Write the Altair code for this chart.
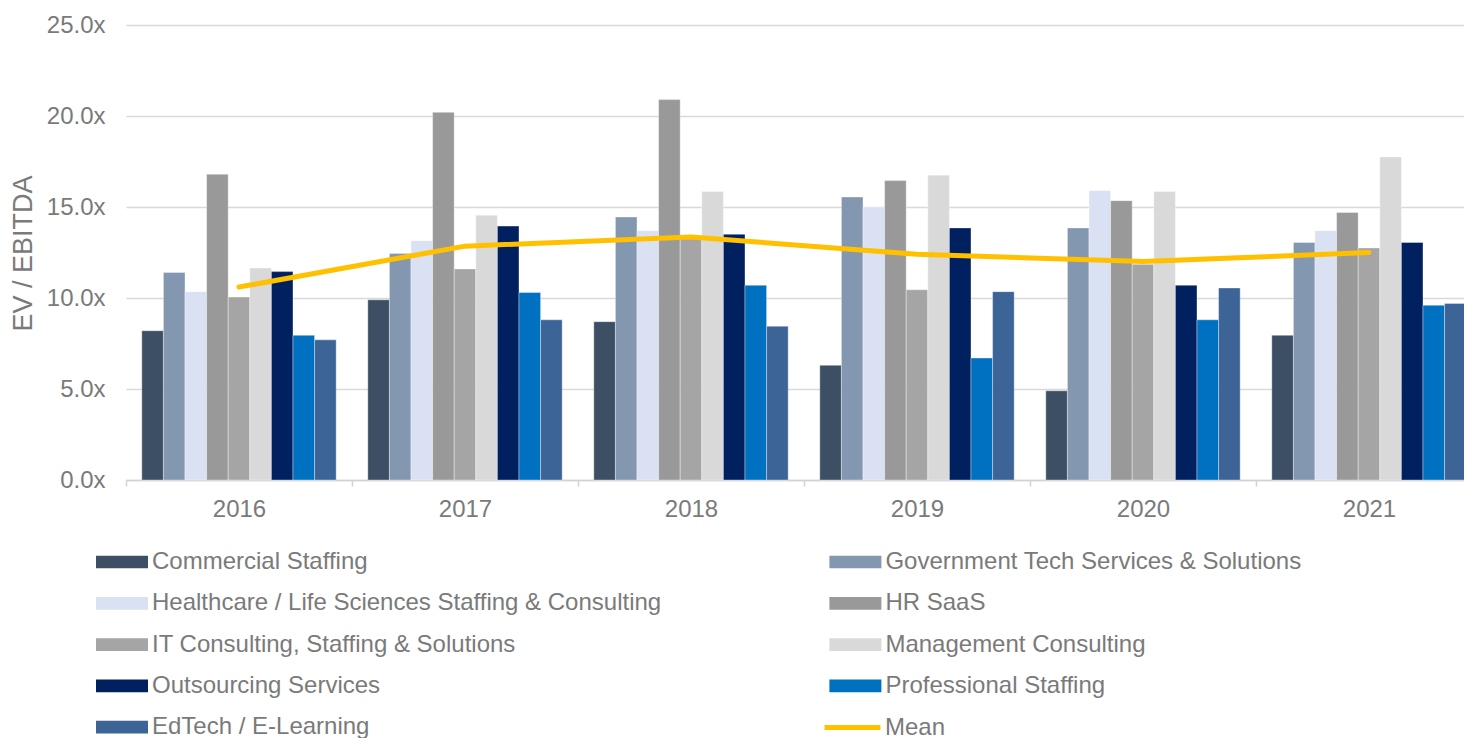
import altair as alt
import pandas as pd

years = ["2016", "2017", "2018", "2019", "2020", "2021"]
series = [
    "Commercial Staffing",
    "Government Tech Services & Solutions",
    "Healthcare / Life Sciences Staffing & Consulting",
    "HR SaaS",
    "IT Consulting, Staffing & Solutions",
    "Management Consulting",
    "Outsourcing Services",
    "Professional Staffing",
    "EdTech / E-Learning",
]
colors = ["#3C4F65", "#8497B0", "#DAE1F3", "#999999", "#A5A5A5",
          "#D9D9D9", "#002060", "#0070C0", "#3C6496"]
mean_label = "Mean"
mean_color = "#FFC000"

commercial = [8.2, 9.9, 8.7, 6.3, 4.9, 7.95]
gov_tech = [11.4, 12.45, 14.45, 15.55, 13.85, 13.05]
healthcare = [10.35, 13.15, 13.7, 15.0, 15.9, 13.7]
hr_saas = [16.8, 20.2, 20.9, 16.45, 15.35, 14.7]
it_consulting = [10.05, 11.6, 13.3, 10.45, 11.85, 12.75]
mgmt_consulting = [11.65, 14.55, 15.85, 16.75, 15.85, 17.75]
outsourcing = [11.45, 13.95, 13.5, 13.85, 10.7, 13.05]
professional = [7.95, 10.3, 10.7, 6.7, 8.8, 9.6]
edtech = [7.7, 8.8, 8.45, 10.35, 10.55, 9.7]
mean_vals = [10.6, 12.85, 13.35, 12.4, 12.0, 12.5]

y_ticks = [0, 5, 10, 15, 20, 25]

all_series_values = [commercial, gov_tech, healthcare, hr_saas, it_consulting,
                     mgmt_consulting, outsourcing, professional, edtech]
rows = []
for s, vals in zip(series, all_series_values):
    for yr, v in zip(years, vals):
        rows.append({"year": yr, "series": s, "value": v})
bars_df = pd.DataFrame(rows)
mean_df = pd.DataFrame({"year": years, "value": mean_vals, "series": [mean_label] * len(years)})

FONT = "Liberation Sans"
TXT = "#7A7A7A"
FS = 24
BAR_SYM = "M-2,-0.49H2V0.49H-2Z"
MEAN_SYM = "M-2.15,0H2.15"

bars = alt.Chart(bars_df).mark_bar(stroke="white", strokeWidth=0.6, strokeOpacity=0.6).encode(
    x=alt.X("year:N", sort=years,
            scale=alt.Scale(paddingInner=0.14, paddingOuter=0.07),
            axis=alt.Axis(title=None, labelAngle=0, labelFontSize=FS, labelColor=TXT,
                          labelFont=FONT, labelPadding=11, domainColor="#D3D3D3",
                          domainWidth=1.5, tickColor="#D3D3D3", tickWidth=1.5,
                          tickSize=6, bandPosition=0, tickOffset=-15.8,
                          labelOffset=15.8, grid=False)),
    xOffset=alt.XOffset("series:N", sort=series,
                        scale=alt.Scale(domain=series, paddingInner=0, paddingOuter=0)),
    y=alt.Y("value:Q", scale=alt.Scale(domain=[0, 25], nice=False),
            axis=alt.Axis(title="EV / EBITDA", values=y_ticks,
                          labelExpr="format(datum.value, '.1f') + 'x'",
                          labelFontSize=FS, labelColor=TXT, labelFont=FONT,
                          labelPadding=21, domain=False, ticks=False,
                          gridColor="#D9D9D9", gridWidth=1.5,
                          titleFontSize=27, titleFont=FONT, titleColor=TXT,
                          titleFontWeight="normal", titleX=-103, titleY=228,
                          titleAngle=270, titleBaseline="middle", titleAlign="center")),
    color=alt.Color("series:N",
                    scale=alt.Scale(domain=series, range=colors),
                    legend=alt.Legend(
                        title=None, orient="none", legendX=-17, legendY=524,
                        direction="horizontal", columns=2, columnPadding=167.4,
                        rowPadding=16.3,
                        symbolType=BAR_SYM, symbolSize=676, symbolStrokeWidth=0,
                        labelFontSize=FS, labelFont=FONT, labelColor=TXT,
                        labelOffset=17, labelLimit=1000, padding=0)),
)

line = alt.Chart(mean_df).mark_line(strokeWidth=5, strokeCap="round",
                                    strokeJoin="round").encode(
    x=alt.X("year:N", sort=years),
    y=alt.Y("value:Q"),
    stroke=alt.Stroke("series:N",
                      scale=alt.Scale(domain=[mean_label], range=[mean_color]),
                      legend=alt.Legend(
                          title=None, orient="none", legendX=711, legendY=687,
                          symbolType=MEAN_SYM, symbolSize=676, symbolStrokeWidth=5,
                          labelFontSize=FS, labelFont=FONT, labelColor=TXT,
                          labelOffset=17, labelLimit=1000, padding=0)),
)

chart = alt.layer(bars, line).properties(
    width=1356, height=455,
    padding={"left": 118, "top": 17, "right": -18, "bottom": 258},
    autosize=alt.AutoSizeParams(type="none"),
).configure_view(stroke=None)

chart.save("out.html", embed_options={"renderer": "svg", "actions": False})
